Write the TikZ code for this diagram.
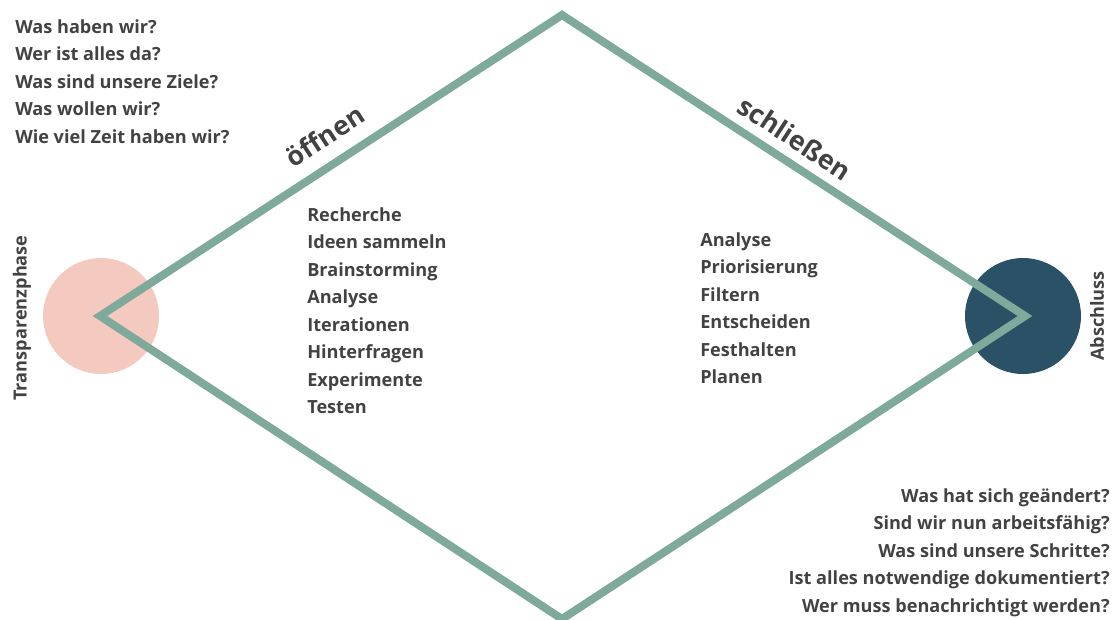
\documentclass[tikz,border=0pt]{standalone}
\usepackage{fontspec}
\setmainfont{Open Sans}
\definecolor{linegreen}{HTML}{7FA99B}
\definecolor{pinkc}{HTML}{F4C9C0}
\definecolor{darkc}{HTML}{2B5166}
\definecolor{txt}{HTML}{424242}
\tikzset{
  lbl/.style={inner sep=0pt, text=txt, font=\bfseries\fontsize{13.6}{16}\selectfont},
  big/.style={inner sep=0pt, text=txt, font=\bfseries\fontsize{20}{23}\selectfont},
  edge/.style={draw=linegreen, line width=6pt, line join=miter}
}
\begin{document}
\begin{tikzpicture}[x=0.75pt,y=-0.75pt]
\useasboundingbox (0,0) rectangle (1113,619);
% circles
\node[circle, fill=pinkc, minimum size=87pt, inner sep=0pt] (start) at (101,316) {};
\node[circle, fill=darkc, minimum size=87pt, inner sep=0pt] (end) at (1023,316) {};
% diamond vertices
\coordinate (L) at (100,316);
\coordinate (T) at (562,15);
\coordinate (R) at (1025,316);
\coordinate (B) at (562,619);
\draw[edge] (L) -- (T) -- (R) -- (B) -- cycle;
% rotated labels
\node[big, rotate=33.2] (open) at (325,136) {öffnen};
\node[big, rotate=-33.2] (close) at (795,138) {schließen};
\node[lbl, rotate=90] (tp) at (22,318) {Transparenzphase};
\node[lbl, rotate=90] (ab) at (1097,316) {Abschluss};
% top-left questions
\foreach \t [count=\i] in {Was haben wir?, Wer ist alles da?, Was sind unsere Ziele?, Was wollen wir?, Wie viel Zeit haben wir?}
  \node[lbl, anchor=base west] (q\i) at (15,{33.5+27.4*(\i-1)}) {\t};
% left list
\foreach \t [count=\i] in {Recherche, Ideen sammeln, Brainstorming, Analyse, Iterationen, Hinterfragen, Experimente, Testen}
  \node[lbl, anchor=base west] (o\i) at (307,{221.5+27.45*(\i-1)}) {\t};
% right list
\foreach \t [count=\i] in {Analyse, Priorisierung, Filtern, Entscheiden, Festhalten, Planen}
  \node[lbl, anchor=base west] (c\i) at (700,{246.5+27.45*(\i-1)}) {\t};
% bottom-right questions
\foreach \t [count=\i] in {Was hat sich geändert?, Sind wir nun arbeitsfähig?, Was sind unsere Schritte?, Ist alles notwendige dokumentiert?, Wer muss benachrichtigt werden?}
  \node[lbl, anchor=base east] (a\i) at (1110,{502.5+27.4*(\i-1)}) {\t};
\end{tikzpicture}
\end{document}
